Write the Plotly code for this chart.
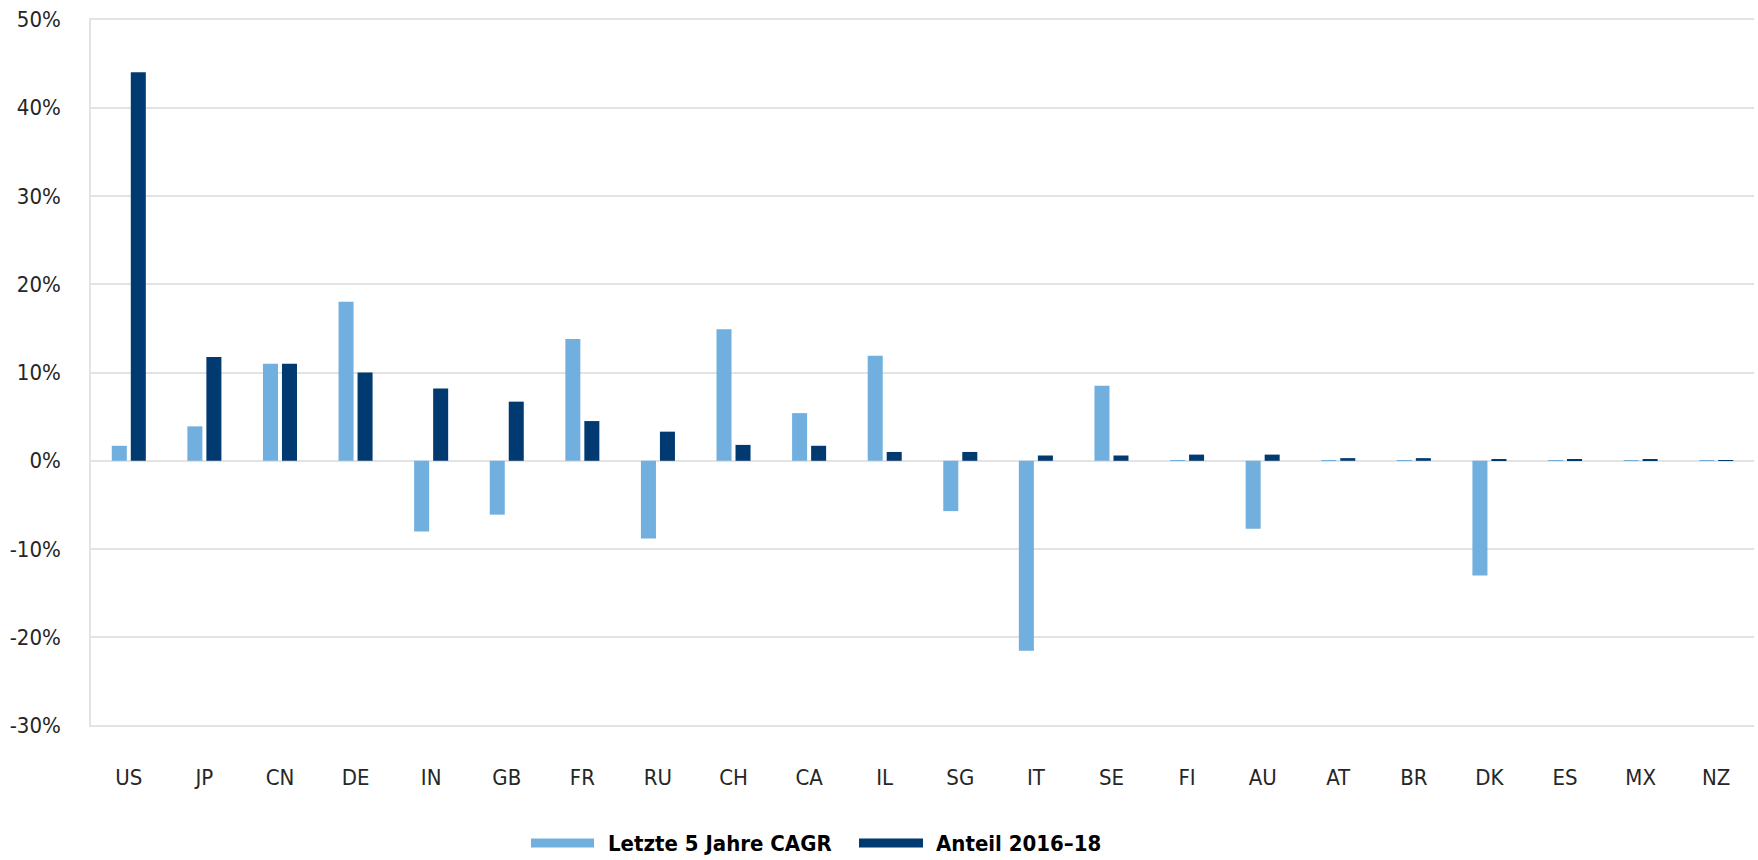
import plotly.graph_objects as go

# Countries (ISO codes) along the x axis
countries = ["US", "JP", "CN", "DE", "IN", "GB", "FR", "RU", "CH", "CA", "IL",
             "SG", "IT", "SE", "FI", "AU", "AT", "BR", "DK", "ES", "MX", "NZ"]

# Compound annual growth over the last five years, in percent
cagr_5y = [1.7, 3.9, 11.0, 18.0, -8.0, -6.1, 13.8, -8.8, 14.9, 5.4, 11.9,
           -5.7, -21.5, 8.5, 0.05, -7.7, 0.05, 0.05, -13.0, 0.05, 0.05, 0.05]

# Share 2016-18, in percent
share_2016_18 = [44.0, 11.75, 11.0, 10.0, 8.2, 6.7, 4.5, 3.3, 1.8, 1.7, 1.0,
                 1.0, 0.6, 0.6, 0.7, 0.7, 0.3, 0.3, 0.2, 0.2, 0.1, 0.05]

series_names = ["Letzte 5 Jahre CAGR", "Anteil 2016\u201318"]
series_colors = ["#71AFDF", "#003A70"]

y_tick_vals = [-30, -20, -10, 0, 10, 20, 30, 40, 50]
y_tick_text = ["-30%", "-20%", "-10%", "0%", "10%", "20%", "30%", "40%", "50%"]

W, H = 1758, 860
M_L, M_R, M_T, M_B = 91, 4, 18, 133
GRID = "#E3E3E3"
TICK_FONT = dict(family="Liberation Sans Narrow, DejaVu Sans Condensed, Arial Narrow, sans-serif",
                 size=22, color="#262626")
LEG_FONT = dict(family="Liberation Sans Narrow, DejaVu Sans Condensed, Arial Narrow, sans-serif",
                size=22, color="#000000", weight="bold")

fig = go.Figure()
for name, vals, col in zip(series_names, [cagr_5y, share_2016_18], series_colors):
    fig.add_trace(go.Bar(x=countries, y=vals, name=name, marker_color=col,
                         marker_line_width=0, showlegend=False))

fig.update_layout(
    width=W, height=H,
    margin=dict(l=M_L, r=M_R, t=M_T, b=M_B),
    paper_bgcolor="white", plot_bgcolor="white",
    barmode="group", bargap=0.497, bargroupgap=0.21,
)
fig.update_xaxes(
    type="category", showgrid=False, zeroline=False, showline=False,
    ticks="outside", ticklen=31, tickcolor="rgba(0,0,0,0)",
    tickfont=TICK_FONT,
)
# range padded a hair so the outermost gridlines (-30% and 50%) are drawn
fig.update_yaxes(
    range=[-30.15, 50.15], tickvals=y_tick_vals, ticktext=y_tick_text,
    showgrid=True, gridcolor=GRID, gridwidth=1.5,
    zeroline=True, zerolinecolor=GRID, zerolinewidth=1.5,
    showline=True, linecolor=GRID, linewidth=1.5,
    ticks="outside", ticklen=24, tickcolor="rgba(0,0,0,0)",
    tickfont=TICK_FONT,
)

# Legend drawn below the plot: wide colour swatch followed by the series name
plot_w = W - M_L - M_R
plot_h = H - M_T - M_B


def px_x(px):
    return (px - M_L) / plot_w


def px_y(py):
    return (H - M_B - py) / plot_h


legend_items = [(531, 594, 606), (859, 923, 934)]
leg_y = 843
for (x0, x1, tx), name, col in zip(legend_items, series_names, series_colors):
    fig.add_shape(type="rect", xref="paper", yref="paper",
                  x0=px_x(x0), x1=px_x(x1), y0=px_y(leg_y + 4.5), y1=px_y(leg_y - 4.5),
                  fillcolor=col, line_width=0)
    fig.add_annotation(xref="paper", yref="paper", x=px_x(tx), y=px_y(leg_y),
                       text=name, showarrow=False, xanchor="left", yanchor="middle",
                       font=LEG_FONT)

fig.write_html("out.html")
